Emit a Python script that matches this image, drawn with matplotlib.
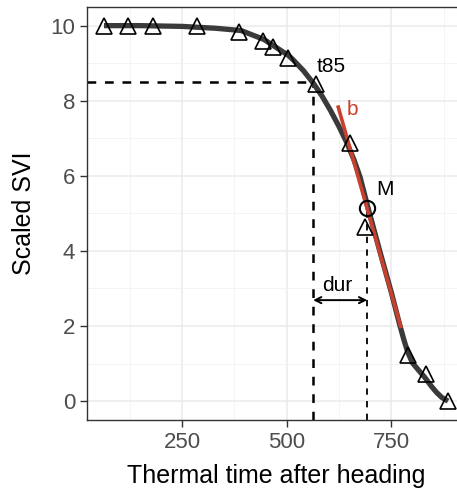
import matplotlib
matplotlib.use('Agg')
import matplotlib.pyplot as plt

plt.rcParams['font.family'] = ['Liberation Sans', 'DejaVu Sans']

# observed points (triangles)
obs_time = [64, 121, 181, 286, 386, 443, 467, 503, 570, 651, 687, 789, 832, 885]
obs_svi = [10.0, 10.0, 10.0, 10.0, 9.84, 9.58, 9.42, 9.15, 8.45, 6.87, 4.64, 1.22, 0.72, 0.0]

# fitted curve
fit_time = [64, 150, 250, 330, 391, 446, 505, 517, 540, 564, 584, 604, 624, 644, 660, 675, 694,
            722, 750, 770, 780, 789, 800, 815, 829, 845, 857, 870, 885]
fit_svi = [10.0, 10.0, 9.98, 9.93, 9.87, 9.63, 9.2, 9.07, 8.8, 8.46, 8.13, 7.75, 7.33, 6.87, 6.44,
           5.97, 5.15, 4.0, 2.88, 2.02, 1.62, 1.3, 1.02, 0.82, 0.64, 0.40, 0.24, 0.1, 0.0]

# key points
t85 = 563
svi85 = 8.5
m_time = 692
m_svi = 5.15
b_time = [623, 772]
b_svi = [7.83, 1.99]
dur_y = 2.69

red = '#c9402c'

fig = plt.figure(figsize=(4.57, 4.90), dpi=100)
ax = fig.add_axes([0.19, 0.143, 0.828, 0.843])

ax.set_xlim(23, 926)
ax.set_ylim(-0.5, 10.5)
ax.set_xticks([250, 500, 750])
ax.set_xticks([125, 375, 625, 875], minor=True)
ax.set_yticks([0, 2, 4, 6, 8, 10])
ax.set_yticks([1, 3, 5, 7, 9], minor=True)
ax.grid(which='major', color='#ebebeb', lw=1.1, zorder=0)
ax.grid(which='minor', color='#f2f2f2', lw=0.6, zorder=0)
ax.set_axisbelow(True)
for s in ax.spines.values():
    s.set_color('#333333')
    s.set_linewidth(1.0)
ax.tick_params(which='major', length=5, width=1.0, color='#333333',
               labelcolor='#4d4d4d', labelsize=16, pad=3.5)
ax.tick_params(which='minor', length=0)

# dashed guide lines
ax.plot([23, t85], [svi85, svi85], ls=(0, (3.5, 3.5)), color='black', lw=1.8, zorder=2)
ax.plot([t85, t85], [-0.5, svi85], ls=(0, (3.5, 3.5)), color='black', lw=1.8, zorder=2)
ax.plot([m_time, m_time], [-0.5, m_svi], ls=(0, (3.5, 3.5)), color='black', lw=1.3, zorder=2)

ax.plot(fit_time, fit_svi, color='#3a3a3a', lw=3.8, solid_capstyle='butt', zorder=3)
ax.plot(b_time, b_svi, color=red, lw=2.6, zorder=4)
ax.plot(obs_time, obs_svi, ls='none', marker='^', ms=11, mfc='none', mec='black', mew=1.2, zorder=5)
ax.plot([m_time], [m_svi], ls='none', marker='o', ms=11, mfc='none', mec='black', mew=1.5, zorder=5)

ax.annotate('', xy=(t85, dur_y), xytext=(m_time, dur_y),
            arrowprops=dict(arrowstyle='<->', color='black', lw=1.4,
                            shrinkA=0, shrinkB=0, mutation_scale=11))
ax.text(620, 2.93, 'dur', fontsize=15, ha='center', va='baseline')
ax.text(606, 8.77, 't85', fontsize=15, ha='center', va='baseline')
ax.text(658, 7.62, 'b', fontsize=15, ha='center', va='baseline', color=red)
ax.text(735, 5.49, 'M', fontsize=15, ha='center', va='baseline')

ax.set_xlabel('Thermal time after heading', fontsize=18, labelpad=8)
ax.set_ylabel('Scaled SVI', fontsize=18, labelpad=10)

fig.savefig('out.png', dpi=100)
